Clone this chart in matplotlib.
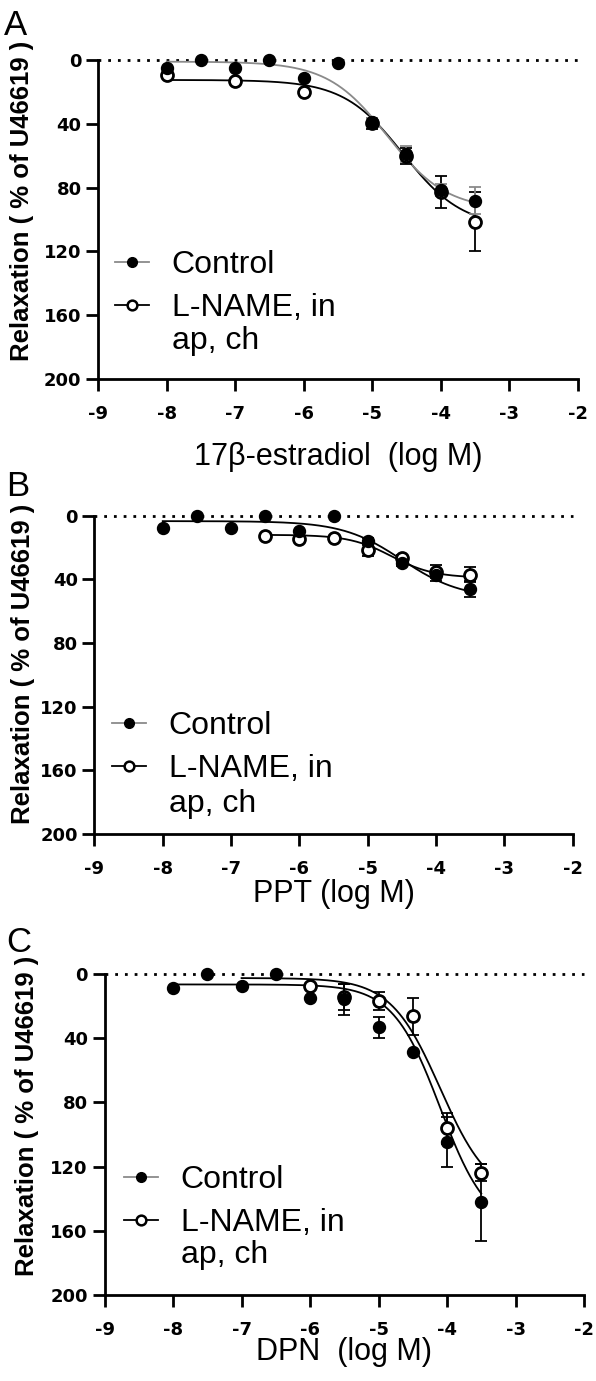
import numpy as np
import matplotlib
matplotlib.use("Agg")
import matplotlib.pyplot as plt
from matplotlib.lines import Line2D

plt.rcParams['font.family'] = ['Liberation Sans', 'DejaVu Sans']
plt.rcParams['axes.unicode_minus'] = False

W, H = 596, 1381

# ---------------- data ----------------
# Panel A : 17beta-estradiol
a_ctrl_x = [-8, -7.5, -7, -6.5, -6, -5.5, -5, -4.5, -4, -3.5]
a_ctrl_y = [4.8, 0, 5.0, 0, 11.5, 2.0, 39, 59, 81.5, 88.3]
a_ctrl_err = [0, 0, 0, 0, 0, 0, 2.5, 5, 4, 8.5]
a_lname_x = [-8, -7, -6, -5, -4.5, -4, -3.5]
a_lname_y = [9.2, 13, 20.0, 39.7, 60, 83, 101.4]
a_lname_err = [0, 0, 0, 3.5, 5, 10, 18.5]
a_ctrl_fit = dict(top=1.0, bottom=94, logec50=-4.78, slope=1.0)
a_lname_fit = dict(top=12.5, bottom=105, logec50=-4.55, slope=1.0)

# Panel B : PPT
b_ctrl_x = [-8, -7.5, -7, -6.5, -6, -5.5, -5, -4.5, -4, -3.5]
b_ctrl_y = [8.0, 0, 8.0, 0, 9.6, 0.4, 16.2, 29.5, 37.5, 45.8]
b_ctrl_err = [0, 0, 0, 0, 0, 0, 2, 2, 3.6, 5]
b_lname_x = [-6.5, -6, -5.5, -5, -4.5, -4, -3.5]
b_lname_y = [12.8, 14.9, 14.2, 21.5, 26.8, 35.2, 37.0]
b_lname_err = [0, 0, 0, 3.8, 2, 4, 4.5]
b_ctrl_fit = dict(top=3.4, bottom=52, logec50=-4.5, slope=1.0)
b_lname_fit = dict(top=12, bottom=39, logec50=-4.65, slope=1.4)

# Panel C : DPN
c_ctrl_x = [-8, -7.5, -7, -6.5, -6, -5.5, -5, -4.5, -4, -3.5]
c_ctrl_y = [8.9, 0, 7.5, 0, 15.2, 15.8, 33.2, 48.4, 104.5, 142.3]
c_ctrl_err = [0, 0, 0, 0, 0, 9.5, 6.5, 0, 15.5, 23.8]
c_lname_x = [-6, -5.5, -5, -4.5, -4, -3.5]
c_lname_y = [7.3, 14.5, 16.8, 26.4, 96.2, 123.8]
c_lname_err = [0, 8, 5.7, 11.4, 9.8, 5.4]
c_ctrl_fit = dict(top=6.5, bottom=160, logec50=-4.1, slope=1.25)
c_lname_fit = dict(top=2.5, bottom=140, logec50=-4.1, slope=1.2)

x_ticks = [-9, -8, -7, -6, -5, -4, -3, -2]
y_ticks = [0, 40, 80, 120, 160, 200]
legend_labels = ["Control", "L-NAME, in", "ap, ch"]
y_label = "Relaxation ( % of U46619 )"
x_labels = ["17\u03b2-estradiol  (log M)", "PPT (log M)", "DPN  (log M)"]
panel_letters = ["A", "B", "C"]


def hill(x, top, bottom, logec50, slope):
    return top + (bottom - top) / (1 + 10 ** ((logec50 - x) * slope))


GRAY = "#8a8a8a"
TICK_FONT = dict(family=["DejaVu Sans"], fontweight="bold", fontsize=13)

panels = [
    dict(rect_px=(98.2, 60, 577.6, 379),
         ctrl=(a_ctrl_x, a_ctrl_y, a_ctrl_err, a_ctrl_fit, (-8, -3.5)),
         lname=(a_lname_x, a_lname_y, a_lname_err, a_lname_fit, (-8, -3.5)),
         ctrl_color=GRAY, letter_px=(4, 35), ylabel_px=(22, 201),
         xlabel_px=(338, 457), legend_px=(115, 250), gap2=33),
    dict(rect_px=(94.4, 515.7, 572.7, 834),
         ctrl=(b_ctrl_x, b_ctrl_y, b_ctrl_err, b_ctrl_fit, (-8, -3.5)),
         lname=(b_lname_x, b_lname_y, b_lname_err, b_lname_fit, (-6.5, -3.5)),
         ctrl_color="black", letter_px=(6, 496), ylabel_px=(23.5, 664),
         xlabel_px=(333.5, 894), legend_px=(112, 711), gap2=35),
    dict(rect_px=(104.6, 974, 584, 1295),
         ctrl=(c_ctrl_x, c_ctrl_y, c_ctrl_err, c_ctrl_fit, (-8, -3.5)),
         lname=(c_lname_x, c_lname_y, c_lname_err, c_lname_fit, (-7, -3.5)),
         ctrl_color="black", letter_px=(6, 952), ylabel_px=(27, 1116),
         xlabel_px=(344, 1352), legend_px=(124, 1165), gap2=32),
]

fig = plt.figure(figsize=(W / 100, H / 100), dpi=100)


def fx(px):
    return px / W


def fy(py):
    return 1 - py / H


legends = []
for i, p in enumerate(panels):
    x0, y0, x1, y1 = p["rect_px"]
    ax = fig.add_axes([fx(x0), fy(y1), (x1 - x0) / W, (y1 - y0) / H])
    ax.set_xlim(-9, -2)
    ax.set_ylim(200, 0)
    for s in ("top", "right"):
        ax.spines[s].set_visible(False)
    for s in ("left", "bottom"):
        ax.spines[s].set_linewidth(2.0)
    ax.set_xticks(x_ticks, [str(t) for t in x_ticks], **TICK_FONT)
    ax.set_yticks(y_ticks, [str(t) for t in y_ticks], **TICK_FONT)
    ax.tick_params(axis="both", direction="out", length=8.5, width=2.0)
    ax.tick_params(axis="x", pad=10)
    ax.tick_params(axis="y", pad=3.5)

    # zero reference line
    ax.plot([-9, -2], [0, 0], color="black", lw=2.0, dashes=(1, 2.5),
            clip_on=False, zorder=1)

    # fitted curves
    for key, col in (("lname", "black"), ("ctrl", p["ctrl_color"])):
        xs, ys, es, fit, rng = p[key]
        xx = np.linspace(rng[0], rng[1], 300)
        ax.plot(xx, hill(xx, **fit), color=col, lw=1.3, zorder=2)

    # error bars
    for key, col in (("lname", "black"), ("ctrl", p["ctrl_color"])):
        xs, ys, es, fit, rng = p[key]
        xs = np.array(xs); ys = np.array(ys); es = np.array(es)
        m = es > 0
        ax.errorbar(xs[m], ys[m], yerr=es[m], fmt="none", ecolor=col,
                    elinewidth=1.3, capsize=4, capthick=1.3, zorder=3)

    # markers
    xs, ys, es, fit, rng = p["lname"]
    ax.plot(xs, ys, "o", ms=8.6, mfc="white", mec="black", mew=2.0,
            ls="none", zorder=4, clip_on=False)
    xs, ys, es, fit, rng = p["ctrl"]
    ax.plot(xs, ys, "o", ms=8.6, mfc="black", mec="black", mew=1,
            ls="none", zorder=5, clip_on=False)

    # legend
    handles = [
        Line2D([], [], color=GRAY, lw=1.3, marker="o", ms=7, mfc="black",
               mec="black"),
        Line2D([], [], color="black", lw=1.3, marker="o", ms=7, mfc="white",
               mec="black", mew=1.8),
    ]
    lx, ly = p["legend_px"]
    leg = ax.legend(handles, legend_labels[:2], loc="upper left",
                    bbox_to_anchor=(fx(lx), fy(ly)),
                    bbox_transform=fig.transFigure, frameon=False,
                    fontsize=23, handlelength=1.05, handletextpad=0.72,
                    borderpad=0, borderaxespad=0, labelspacing=0.42)
    legends.append((leg, p["gap2"]))

    # texts
    lx, ly = p["letter_px"]
    fig.text(fx(lx), fy(ly), panel_letters[i], fontsize=25, ha="left",
             va="baseline")
    lx, ly = p["ylabel_px"]
    fig.text(fx(lx), fy(ly), y_label, fontsize=18.5, fontweight="bold",
             rotation=90, ha="center", va="center")
    lx, ly = p["xlabel_px"]
    fig.text(fx(lx), fy(ly), x_labels[i], fontsize=22, ha="center",
             va="center")

# continuation line of the second legend label, placed under it
fig.canvas.draw()
for leg, gap in legends:
    bb = leg.get_texts()[1].get_window_extent()
    fig.text(bb.x0 / W, (bb.y0 - gap) / H, legend_labels[2], fontsize=23,
             ha="left", va="bottom")

fig.savefig("out.png", dpi=100)
